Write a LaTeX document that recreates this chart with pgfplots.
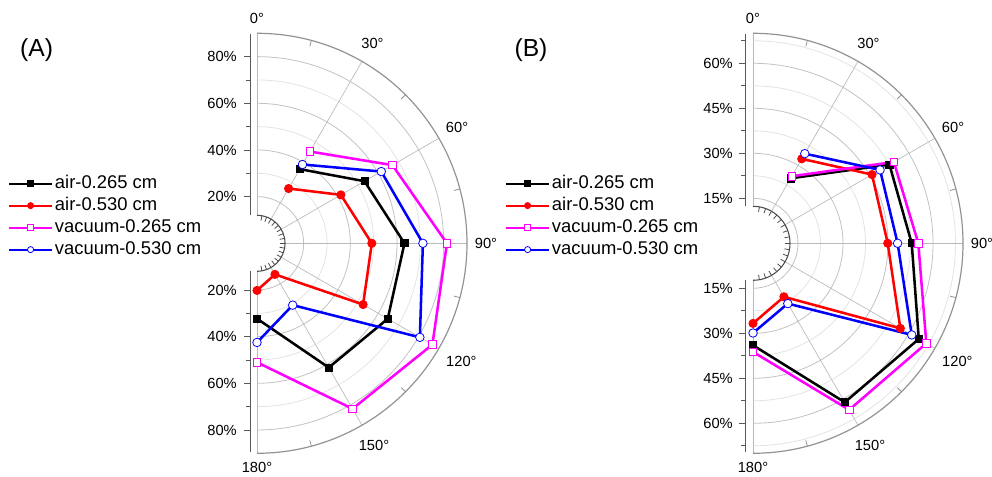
\documentclass[border=0pt]{standalone}
\usepackage{fontspec}
\setmainfont{Liberation Sans}
\usepackage{pgfplots}
\usepackage{pgfplotstable}
\pgfplotsset{compat=1.18}

\definecolor{mag}{RGB}{255,0,255}
\definecolor{blu}{RGB}{0,0,255}
\definecolor{rd}{RGB}{255,0,0}

% angle (deg, clockwise from top)  value (%)
\pgfplotstableread{
a v
30 36.7
60 53.2
90 63.2
120 64.7
150 61.5
180 32.3
}\Aone
\pgfplotstableread{
a v
30 27.1
60 41.5
90 49.2
120 52.5
150 15.4
180 20.2
}\Atwo
\pgfplotstableread{
a v
30 45.4
60 67.0
90 81.4
120 86.8
150 81.9
180 51.0
}\Athree
\pgfplotstableread{
a v
30 39.0
60 61.5
90 71.1
120 80.6
150 30.6
180 42.5
}\Afour
\pgfplotstableread{
a v
30 25.0
60 52.5
90 52.9
120 63.8
150 61.2
180 34.0
}\Bone
\pgfplotstableread{
a v
30 32.5
60 45.8
90 44.9
120 56.7
150 20.6
180 26.7
}\Btwo
\pgfplotstableread{
a v
30 25.8
60 54.2
90 55.1
120 66.7
150 64.1
180 36.2
}\Bthree
\pgfplotstableread{
a v
30 34.5
60 48.9
90 48.2
120 61.1
150 23.2
180 29.9
}\Bfour

\pgfplotsset{
 s1/.style={black, line width=1.9pt, mark=square*, mark size=2.7pt, mark options={solid, line width=0.6pt, fill=black}},
 s2/.style={rd, line width=1.9pt, mark=*, mark size=3.1pt, mark options={solid, line width=0.6pt, fill=rd}},
 s3/.style={mag, line width=1.9pt, mark=square*, mark size=2.8pt, mark options={solid, line width=0.6pt, fill=white, draw=mag}},
 s4/.style={blu, line width=1.9pt, mark=*, mark size=3.2pt, mark options={solid, line width=0.6pt, fill=white, draw=blu}},
 leg/.style={
   legend style={draw=none, fill=none, inner sep=0pt, row sep=0pt,
     font=\fontsize{13.8}{16}\selectfont,
     nodes={inner xsep=1.5pt, inner ysep=1.5pt, text height=10.5pt, text depth=3pt}},
   legend cell align=left,
   legend image code/.code={\draw[mark repeat=2,mark phase=2,##1,line width=1.5pt,mark size=2.3pt] plot coordinates {(0pt,0pt) (16pt,0pt) (32pt,0pt)};},
 },
}

% #1 px per %, #2 hole radius px, #3 minor values, #4 major values, #5 radial axis x (px)
\newcommand\polarframe[5]{%
  \foreach \v in {#3} {\draw[gray!22, line width=0.6pt] (0,{\v*#1}) arc[start angle=90,end angle=-90,radius={\v*#1}];}
  \foreach \v in {#4} {\draw[gray!48, line width=0.6pt] (0,{\v*#1}) arc[start angle=90,end angle=-90,radius={\v*#1}];}
  \foreach \a in {30,60,90,120,150} {\draw[gray!55, line width=0.5pt] ({90-\a}:#2) -- ({90-\a}:210);}
  \draw[gray!55, line width=0.5pt] (0,#2) -- (0,210) (0,-#2) -- (0,-210);
  \draw[gray!85, line width=0.9pt] (0,210) arc[start angle=90,end angle=-90,radius=210];
  \foreach \a in {15,45,75,105,135,165} {\draw[gray!85, line width=0.6pt] ({90-\a}:210) -- ({90-\a}:204);}
  \draw[black!70, line width=0.8pt] (0,#2) arc[start angle=90,end angle=-90,radius=#2];
  \foreach \a in {10,20,...,170} {\draw[black!70, line width=0.6pt] ({90-\a}:#2) -- ({90-\a}:{#2-5});}
  \draw[black!65, line width=0.7pt] (#5,#2) -- (#5,209) (#5,-#2) -- (#5,-209);
  \foreach \v in {#3} {\draw[black!65, line width=0.6pt] (#5,{\v*#1}) -- ++(-4.5,0) (#5,{-\v*#1}) -- ++(-4.5,0);}
  \foreach \v in {#4} {\draw[black!65, line width=0.6pt] (#5,{\v*#1}) -- ++(-6.5,0) (#5,{-\v*#1}) -- ++(-6.5,0);
     \node[anchor=east, inner sep=0pt, font=\fontsize{11}{13}\selectfont] at (-20,{\v*#1}) {\v\%};
     \node[anchor=east, inner sep=0pt, font=\fontsize{11}{13}\selectfont] at (-20,{-\v*#1}) {\v\%};}
  \foreach \a/\r in {0/225,30/231,60/231,90/229,120/236,150/234,180/224}
     {\node[inner sep=0pt, font=\fontsize{11}{13}\selectfont] at ({90-\a}:\r) {\a{}°};}
}

\begin{document}
\begin{tikzpicture}
\path[use as bounding box] (0,0) rectangle (744pt,357.75pt);

\begin{scope}[shift={(192.75pt,175.275pt)}, x=0.75pt, y=0.75pt]
  \polarframe{2.33333}{28}{30,50,70}{20,40,60,80}{-7}
\end{scope}
\begin{scope}[shift={(564.75pt,175.275pt)}, x=0.75pt, y=0.75pt]
  \polarframe{3}{37}{22.5,37.5,52.5,67.5}{15,30,45,60}{-8}
\end{scope}

\begin{axis}[
  at={(0.25pt,0.275pt)}, anchor=south west,
  x=1.75pt, y=1.75pt,
  xmin=-110, xmax=100, ymin=-100, ymax=100,
  hide axis, clip=false, leg,
  legend style={at={(axis description cs:0.01565,0.652)}, anchor=north west},
]
\addplot[s1] table[x expr={\thisrow{v}*sin(\thisrow{a})}, y expr={\thisrow{v}*cos(\thisrow{a})}] {\Aone};
\addlegendentry{air-0.265 cm}
\addplot[s2] table[x expr={\thisrow{v}*sin(\thisrow{a})}, y expr={\thisrow{v}*cos(\thisrow{a})}] {\Atwo};
\addlegendentry{air-0.530 cm}
\addplot[s3] table[x expr={\thisrow{v}*sin(\thisrow{a})}, y expr={\thisrow{v}*cos(\thisrow{a})}] {\Athree};
\addlegendentry{vacuum-0.265 cm}
\addplot[s4] table[x expr={\thisrow{v}*sin(\thisrow{a})}, y expr={\thisrow{v}*cos(\thisrow{a})}] {\Afour};
\addlegendentry{vacuum-0.530 cm}
\end{axis}

\begin{axis}[
  at={(373.5pt,-0.225pt)}, anchor=south west,
  x=2.25pt, y=2.25pt,
  xmin=-85, xmax=80, ymin=-78, ymax=78,
  hide axis, clip=false, leg,
  legend style={at={(axis description cs:0.01414,0.6516)}, anchor=north west},
]
\addplot[s1] table[x expr={\thisrow{v}*sin(\thisrow{a})}, y expr={\thisrow{v}*cos(\thisrow{a})}] {\Bone};
\addlegendentry{air-0.265 cm}
\addplot[s2] table[x expr={\thisrow{v}*sin(\thisrow{a})}, y expr={\thisrow{v}*cos(\thisrow{a})}] {\Btwo};
\addlegendentry{air-0.530 cm}
\addplot[s3] table[x expr={\thisrow{v}*sin(\thisrow{a})}, y expr={\thisrow{v}*cos(\thisrow{a})}] {\Bthree};
\addlegendentry{vacuum-0.265 cm}
\addplot[s4] table[x expr={\thisrow{v}*sin(\thisrow{a})}, y expr={\thisrow{v}*cos(\thisrow{a})}] {\Bfour};
\addlegendentry{vacuum-0.530 cm}
\end{axis}

\node[inner sep=0pt, font=\fontsize{18.5}{22}\selectfont] at (27.4pt,320.25pt) {(A)};
\node[inner sep=0pt, font=\fontsize{18.5}{22}\selectfont] at (398.25pt,320.25pt) {(B)};
\end{tikzpicture}
\end{document}
